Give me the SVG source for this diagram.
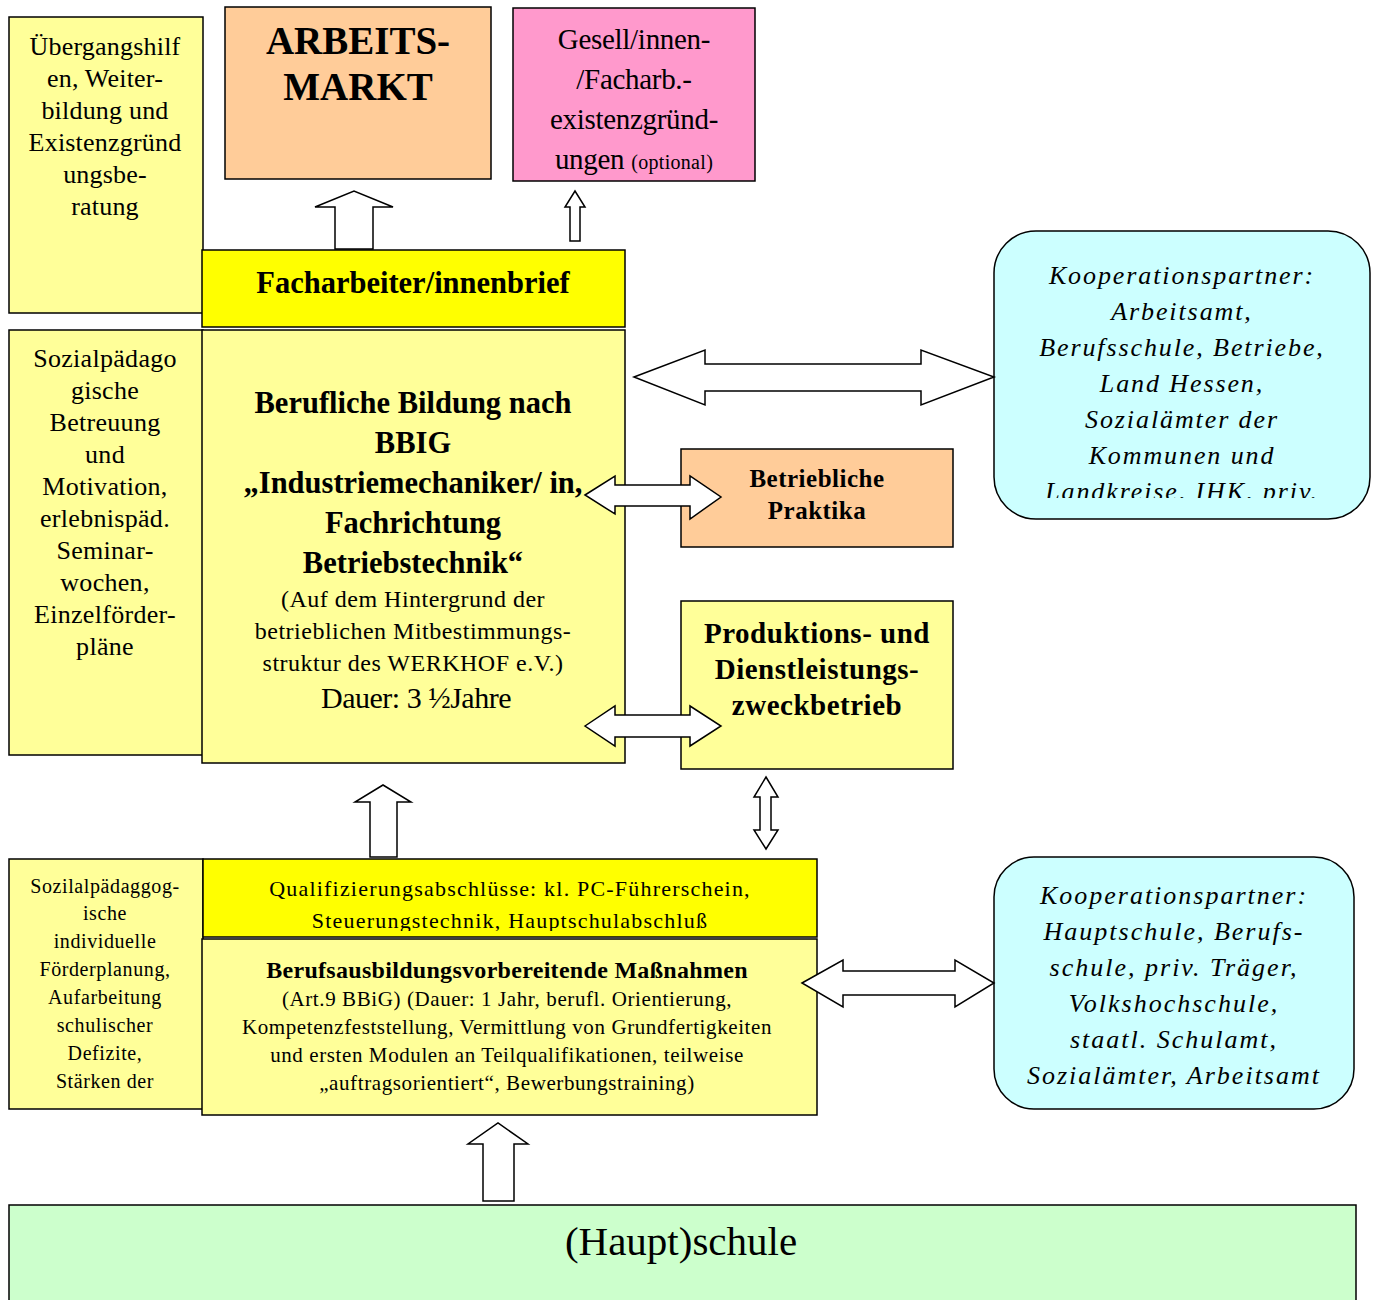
<svg xmlns="http://www.w3.org/2000/svg" width="1380" height="1300" viewBox="0 0 1380 1300">
<style>
.b{stroke:#000;stroke-width:1.5}
.y{fill:#FFFF99}.Y{fill:#FFFF00}.o{fill:#FFCC99}.p{fill:#FF99CC}.c{fill:#CCFFFF}.g{fill:#CCFFCC}
text{font-family:"Liberation Serif","Times New Roman",serif;fill:#000;text-anchor:middle}
.bd{font-weight:bold}
.it{font-style:italic}
.ar{fill:#fff;stroke:#000;stroke-width:1.5;stroke-linejoin:miter}
</style>
<defs>
<clipPath id="ck1"><rect x="994" y="231" width="376" height="267"/></clipPath>
<clipPath id="cq"><rect x="203" y="859" width="614" height="72"/></clipPath>
</defs>
<rect width="1380" height="1300" fill="#fff"/>

<g id="n-uebergang">
<rect class="b y" x="9" y="17" width="194" height="296"/>
<text font-size="26" letter-spacing="0.2"><tspan x="105" y="55">Übergangshilf</tspan><tspan x="105" y="87">en, Weiter-</tspan><tspan x="105" y="119">bildung und</tspan><tspan x="105" y="151">Existenzgründ</tspan><tspan x="105" y="183">ungsbe-</tspan><tspan x="105" y="215">ratung</tspan></text>
</g>

<g id="n-arbeitsmarkt">
<rect class="b o" x="225" y="7" width="266" height="172"/>
<text class="bd" font-size="39"><tspan x="358" y="54">ARBEITS-</tspan><tspan x="358" y="100">MARKT</tspan></text>
</g>

<g id="n-gesell">
<rect class="b p" x="513" y="8" width="242" height="173"/>
<text font-size="29" letter-spacing="-0.3"><tspan x="634" y="49">Gesell/innen-</tspan><tspan x="634" y="89">/Facharb.-</tspan><tspan x="634" y="129">existenzgründ-</tspan><tspan x="634" y="169">ungen <tspan font-size="20" letter-spacing="0.3">(optional)</tspan></tspan></text>
</g>

<g id="n-facharbeiter">
<rect class="b Y" x="202" y="250" width="423" height="77"/>
<text class="bd" font-size="30.5" x="413" y="293">Facharbeiter/innenbrief</text>
</g>

<g id="n-sozial1">
<rect class="b y" x="9" y="330" width="194" height="425"/>
<text font-size="26" letter-spacing="0.3"><tspan x="105" y="367">Sozialpädago</tspan><tspan x="105" y="399">gische</tspan><tspan x="105" y="431">Betreuung</tspan><tspan x="105" y="463">und</tspan><tspan x="105" y="495">Motivation,</tspan><tspan x="105" y="527">erlebnispäd.</tspan><tspan x="105" y="559">Seminar-</tspan><tspan x="105" y="591">wochen,</tspan><tspan x="105" y="623">Einzelförder-</tspan><tspan x="105" y="655">pläne</tspan></text>
</g>

<g id="n-berufliche">
<rect class="b y" x="202" y="330" width="423" height="433"/>
<text class="bd" font-size="30.5"><tspan x="413" y="413">Berufliche Bildung nach</tspan><tspan x="413" y="453">BBIG</tspan><tspan x="413" y="493">„Industriemechaniker/ in,</tspan><tspan x="413" y="533">Fachrichtung</tspan><tspan x="413" y="573">Betriebstechnik“</tspan></text>
<text font-size="24" letter-spacing="0.5"><tspan x="413" y="607">(Auf dem Hintergrund der</tspan><tspan x="413" y="639">betrieblichen Mitbestimmungs-</tspan><tspan x="413" y="671">struktur des WERKHOF e.V.)</tspan></text>
<text font-size="30" x="416" y="708" letter-spacing="-0.5">Dauer: 3 ½Jahre</text>
</g>

<g id="n-koop1">
<rect class="b c" x="994" y="231" width="376" height="288" rx="42" ry="42"/>
<text class="it" font-size="26" letter-spacing="1.9" clip-path="url(#ck1)"><tspan x="1182" y="284">Kooperationspartner:</tspan><tspan x="1182" y="320">Arbeitsamt,</tspan><tspan x="1182" y="356">Berufsschule, Betriebe,</tspan><tspan x="1182" y="392">Land Hessen,</tspan><tspan x="1182" y="428">Sozialämter der</tspan><tspan x="1182" y="464">Kommunen und</tspan><tspan x="1182" y="500">Landkreise, IHK, priv.</tspan></text>
</g>

<g id="n-praktika">
<rect class="b o" x="681" y="449" width="272" height="98"/>
<text class="bd" font-size="25" letter-spacing="0.5"><tspan x="817" y="487">Betriebliche</tspan><tspan x="817" y="519">Praktika</tspan></text>
</g>

<g id="n-produktion">
<rect class="b y" x="681" y="601" width="272" height="168"/>
<text class="bd" font-size="29" letter-spacing="0.5"><tspan x="817" y="643">Produktions- und</tspan><tspan x="817" y="679">Dienstleistungs-</tspan><tspan x="817" y="715">zweckbetrieb</tspan></text>
</g>

<g id="n-sozial2">
<rect class="b y" x="9" y="859" width="194" height="250"/>
<text font-size="20" letter-spacing="0.6"><tspan x="105" y="893">Sozilalpädaggog-</tspan><tspan x="105" y="920">ische</tspan><tspan x="105" y="948">individuelle</tspan><tspan x="105" y="976">Förderplanung,</tspan><tspan x="105" y="1004">Aufarbeitung</tspan><tspan x="105" y="1032">schulischer</tspan><tspan x="105" y="1060">Defizite,</tspan><tspan x="105" y="1088">Stärken der</tspan></text>
</g>

<g id="n-qualifizierung">
<rect class="b Y" x="203" y="859" width="614" height="78"/>
<text font-size="22" letter-spacing="1.2" clip-path="url(#cq)"><tspan x="510" y="896">Qualifizierungsabschlüsse: kl. PC-Führerschein,</tspan><tspan x="510" y="928">Steuerungstechnik, Hauptschulabschluß</tspan></text>
</g>

<g id="n-bvb">
<rect class="b y" x="202" y="939" width="615" height="176"/>
<text class="bd" font-size="24" letter-spacing="0.3" x="507" y="978">Berufsausbildungsvorbereitende Maßnahmen</text>
<text font-size="21" letter-spacing="0.6"><tspan x="507" y="1006">(Art.9 BBiG)  (Dauer: 1 Jahr, berufl. Orientierung,</tspan><tspan x="507" y="1034">Kompetenzfeststellung, Vermittlung von Grundfertigkeiten</tspan><tspan x="507" y="1062">und ersten Modulen an Teilqualifikationen, teilweise</tspan><tspan x="507" y="1090">„auftragsorientiert“, Bewerbungstraining)</tspan></text>
</g>

<g id="n-koop2">
<rect class="b c" x="994" y="857" width="360" height="252" rx="40" ry="40"/>
<text class="it" font-size="26" letter-spacing="2" ><tspan x="1174" y="904">Kooperationspartner:</tspan><tspan x="1174" y="940">Hauptschule, Berufs-</tspan><tspan x="1174" y="976">schule, priv. Träger,</tspan><tspan x="1174" y="1012">Volkshochschule,</tspan><tspan x="1174" y="1048">staatl. Schulamt,</tspan><tspan x="1174" y="1084">Sozialämter, Arbeitsamt</tspan></text>
</g>

<g id="n-hauptschule">
<rect class="b g" x="9" y="1205" width="1347" height="110"/>
<text font-size="41" x="681" y="1255">(Haupt)schule</text>
</g>

<g id="connectors">
<polygon class="ar" points="335,249 335,207 315,207 354,191 393,207 373,207 373,249"/>
<polygon class="ar" points="570,241 570,207 565,207 575,191 585,207 580,207 580,241"/>
<polygon class="ar" points="634,377 705,350 705,364 921,364 921,350 994,377 921,405 921,391 705,391 705,405"/>
<polygon class="ar" points="585,495 615,476 615,485 690,485 690,476 721,497 690,519 690,506 615,506 615,514"/>
<polygon class="ar" points="585,726 615,706 615,715 690,715 690,706 721,726 690,746 690,737 615,737 615,746"/>
<polygon class="ar" points="766,777 778,797 771,797 771,830 778,830 766,849 754,830 760,830 760,797 754,797"/>
<polygon class="ar" points="370,857 370,802 355,802 383,785 411,802 397,802 397,857"/>
<polygon class="ar" points="802,983 843,960 843,971 955,971 955,960 994,983 955,1007 955,995 843,995 843,1007"/>
<polygon class="ar" points="483,1201 483,1144 468,1144 498,1123 528,1144 514,1144 514,1201"/>
</g>
</svg>
